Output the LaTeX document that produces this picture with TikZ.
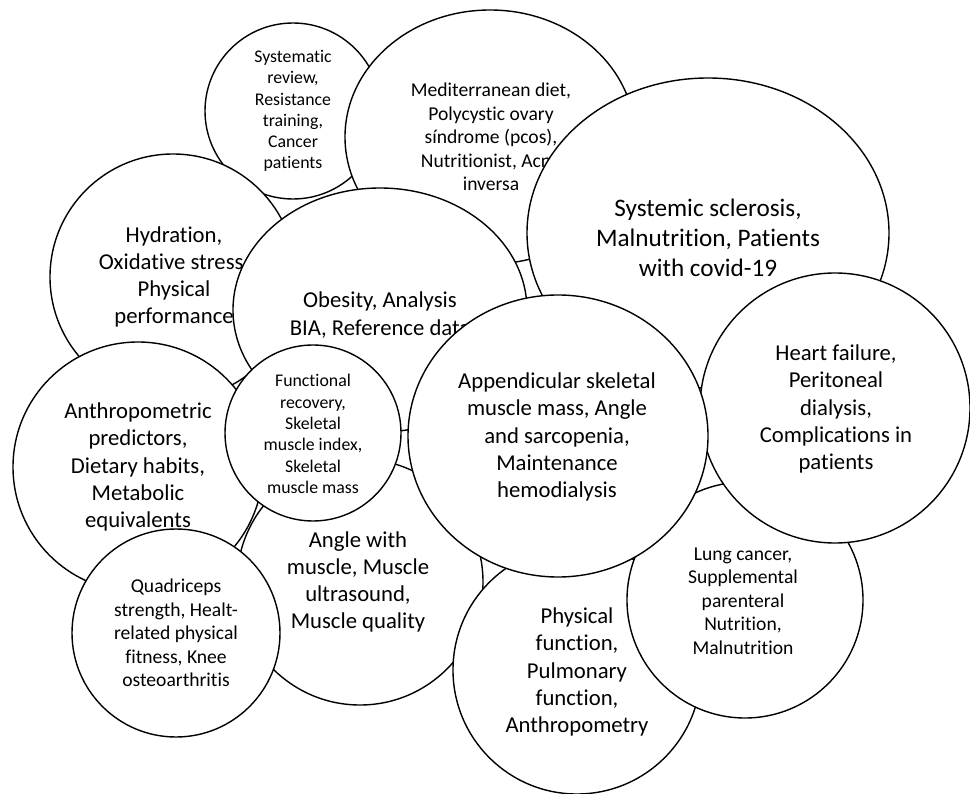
\documentclass[tikz,border=0pt]{standalone}
\usepackage{fontspec}
\setmainfont{Carlito}[Ligatures={NoCommon,NoContextual}]
\usetikzlibrary{shapes.geometric}
\begin{document}
\begin{tikzpicture}[x=1pt,y=-1pt,
  bub/.style={draw=black, fill=white, line width=1.4pt, ellipse, inner sep=0pt},
  lbl/.style={align=center, inner sep=0pt, text=black},
  fsA/.style={font=\fontsize{17.8}{21.3}\selectfont},
  fsB/.style={font=\fontsize{19.6}{23.4}\selectfont},
  fsC/.style={font=\fontsize{22.7}{27.2}\selectfont},
  fsD/.style={font=\fontsize{25.2}{30}\selectfont}]
\useasboundingbox (0,0) rectangle (970,794);
% 1 Systematic review
\node[bub, minimum width=176pt, minimum height=176pt] (b1) at (293,111) {};
\node[lbl, fsA] (t1) at (293,111) {Systematic\\review,\\Resistance\\training,\\Cancer\\patients};
% 2 Mediterranean
\node[bub, minimum width=290pt, minimum height=254pt] (b2) at (490,137) {};
\node[lbl, fsB] (t2) at (491,137) {Mediterranean diet,\\Polycystic ovary\\síndrome (pcos),\\Nutritionist, Acne\\inversa};
% 3 Hydration
\node[bub, minimum width=246pt, minimum height=246pt] (b3) at (173,277) {};
\node[lbl, fsC] (t3) at (174,277) {Hydration,\\Oxidative stress,\\Physical\\performance};
% 4 Systemic sclerosis
\node[bub, minimum width=362pt, minimum height=310pt] (b4) at (708,233) {};
\node[lbl, fsD] (t4) at (708,238) {Systemic sclerosis,\\Malnutrition, Patients\\with covid-19};
% 5 Obesity
\node[bub, minimum width=294pt, minimum height=244pt] (b5) at (380,310) {};
\node[lbl, fsC] (t5) at (380,315) {Obesity, Analysis\\BIA, Reference data};
% 6 Anthropometric
\node[bub, minimum width=250pt, minimum height=250pt] (b6) at (138,467) {};
\node[lbl, fsC] (t6) at (138,467) {Anthropometric\\predictors,\\Dietary habits,\\Metabolic\\equivalents};
% 7 Angle with muscle
\node[bub, minimum width=246pt, minimum height=246pt] (b7) at (360,582) {};
\node[lbl, fsC] (t7) at (358,582) {Angle with\\muscle, Muscle\\ultrasound,\\Muscle quality};
% 8 Physical function
\node[bub, minimum width=248pt, minimum height=248pt] (b8) at (577,670) {};
\node[lbl, fsC] (t8) at (577,672) {Physical\\function,\\Pulmonary\\function,\\Anthropometry};
% 9 Lung cancer
\node[bub, minimum width=236pt, minimum height=236pt] (b9) at (745,600) {};
\node[lbl, fsB] (t9) at (743,601) {Lung cancer,\\Supplemental\\parenteral\\Nutrition,\\Malnutrition};
% 10 Heart failure
\node[bub, minimum width=270pt, minimum height=270pt] (b10) at (835,408) {};
\node[lbl, fsC] (t10) at (836,409) {Heart failure,\\Peritoneal\\dialysis,\\Complications in\\patients};
% 11 Quadriceps
\node[bub, minimum width=208pt, minimum height=208pt] (b11) at (176,633) {};
\node[lbl, fsB] (t11) at (176,633) {Quadriceps\\strength, Healt-\\related physical\\fitness, Knee\\osteoarthritis};
% 12 Functional recovery
\node[bub, minimum width=176pt, minimum height=176pt] (b12) at (313,433) {};
\node[lbl, fsA] (t12) at (313,434) {Functional\\recovery,\\Skeletal\\muscle index,\\Skeletal\\muscle mass};
% 13 Appendicular
\node[bub, minimum width=300pt, minimum height=282pt] (b13) at (558,436) {};
\node[lbl, fsC] (t13) at (557,437) {Appendicular skeletal\\muscle mass, Angle\\and sarcopenia,\\Maintenance\\hemodialysis};
\end{tikzpicture}
\end{document}
